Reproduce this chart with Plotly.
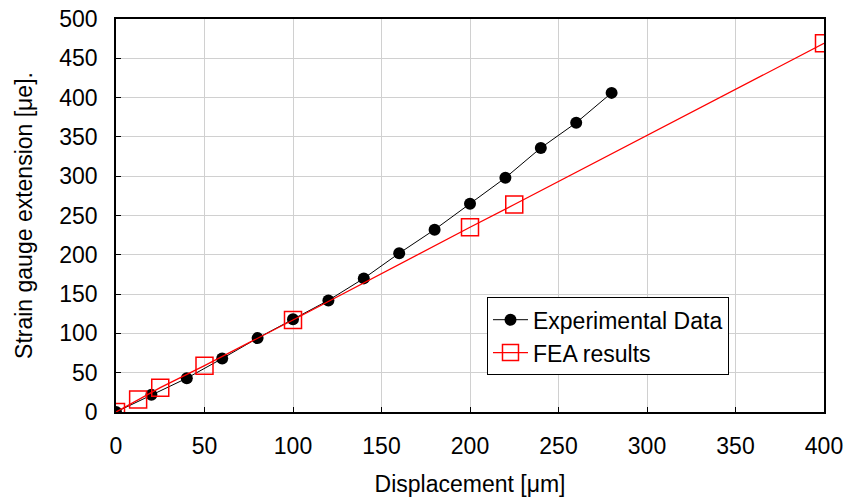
import plotly.graph_objects as go

exp_x = [0, 20, 40, 60, 80, 100, 120, 140, 160, 180, 200, 220, 240, 260, 280]
exp_y = [0, 22, 43, 68, 94, 118, 142, 170, 202, 232, 265, 298, 336, 368, 406]

fea_x = [0, 12.5, 25, 50, 100, 200, 225, 400]
fea_y = [0, 16, 31, 59, 117, 235, 264, 469]

x_ticks = [0, 50, 100, 150, 200, 250, 300, 350, 400]
y_ticks = [0, 50, 100, 150, 200, 250, 300, 350, 400, 450, 500]

FONT = "Liberation Sans, Arial, sans-serif"
FS = 23

fig = go.Figure()
fig.add_trace(go.Scatter(
    x=exp_x, y=exp_y, mode="lines+markers", name="Experimental Data",
    line=dict(color="black", width=1),
    marker=dict(symbol="circle", size=12, color="black"),
))
fig.add_trace(go.Scatter(
    x=fea_x, y=fea_y, mode="lines+markers", name="FEA results",
    line=dict(color="#ff0000", width=1.3),
    marker=dict(symbol="square-open", size=17, color="#ff0000", line=dict(width=1.5, color="#ff0000")),
))

axis_common = dict(
    showline=True, linecolor="black", linewidth=1.5, mirror=True,
    ticks="inside", ticklen=5, tickcolor="black", tickwidth=1,
    showgrid=True, gridcolor="#d0d0d0", gridwidth=1,
    zeroline=False, automargin=False,
    tickfont=dict(family=FONT, size=FS, color="black"),
)

fig.update_xaxes(
    range=[0, 400], tickvals=x_ticks, ticktext=[str(v) for v in x_ticks],
    ticklabelstandoff=13,
    title=dict(text="Displacement [μm]", font=dict(family=FONT, size=FS, color="black"), standoff=18),
    **axis_common,
)
fig.update_yaxes(
    range=[0, 500], tickvals=y_ticks, ticktext=[str(v) for v in y_ticks],
    ticklabelstandoff=12,
    title=dict(text="Strain gauge extension [μe].", font=dict(family=FONT, size=FS, color="black"), standoff=20),
    **axis_common,
)

fig.update_layout(
    width=846, height=498,
    margin=dict(l=116, r=22, t=19, b=86),
    paper_bgcolor="white", plot_bgcolor="white",
    font=dict(family=FONT, size=FS, color="black"),
    legend=dict(
        x=0.524, y=0.292, xanchor="left", yanchor="top",
        bgcolor="white", bordercolor="black", borderwidth=1,
        font=dict(family=FONT, size=FS, color="black"),
        tracegroupgap=0, itemwidth=35,
    ),
    showlegend=True,
)

fig.write_html(
    "out.html",
    config={"displayModeBar": False},
    post_script="document.body.style.margin='0';document.body.style.padding='0';",
)
